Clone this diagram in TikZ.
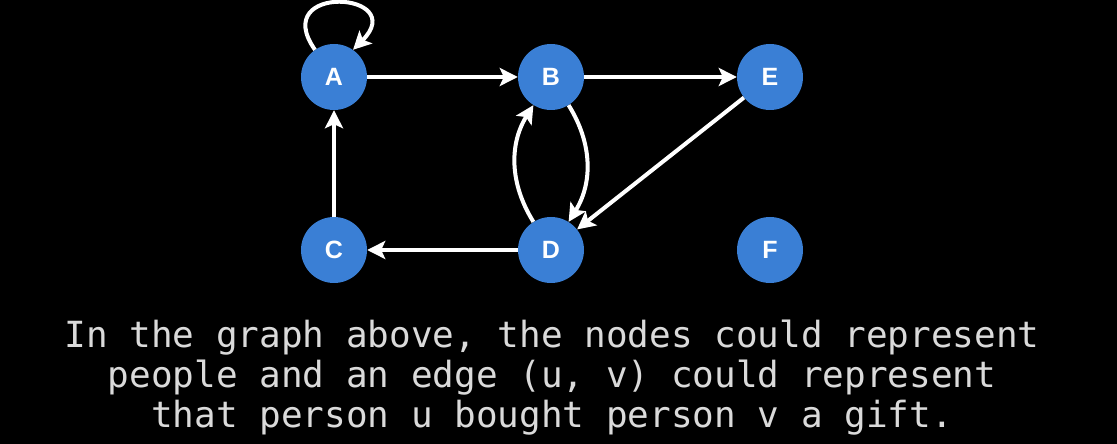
\documentclass[tikz,border=0pt]{standalone}
\usepackage{fontspec}
\usetikzlibrary{arrows.meta}
\newfontfamily\labelfont{Liberation Sans}
\newfontfamily\capfont{DejaVu Sans Mono}
\definecolor{nodeblue}{RGB}{58,127,213}
\definecolor{capgray}{RGB}{218,218,218}
\tikzset{v/.style={circle,fill=nodeblue,minimum size=66pt,inner sep=0pt,text=white,font=\labelfont\bfseries\fontsize{25}{25}\selectfont}}
\tikzset{e/.style={draw=white,line width=4pt,-{Stealth[length=18pt,width=18pt,inset=4pt]}}}
\tikzset{c/.style={text=capgray,align=center,font=\capfont\fontsize{36}{40}\selectfont}}

\begin{document}
\begin{tikzpicture}[x=1pt,y=1pt]
            \useasboundingbox (0,0) rectangle (1117,444);
            \fill[black] (0,0) rectangle (1117,444);
            \node[v] (A) at (334,367) {A};
            \node[v] (B) at (551,367) {B};
            \node[v] (E) at (770,367) {E};
            \node[v] (C) at (334,194) {C};
            \node[v] (D) at (551,194) {D};
            \node[v] (F) at (770,194) {F};
            \draw[e] (A.125) to[out=125,in=45,distance=82pt] (A.55);
            \draw[e] (A) -- (B);
            \draw[e] (B) -- (E);
            \draw[e] (E) -- (D);
            \draw[e] (B) to[bend left=32] (D);
            \draw[e] (D) to[bend left=32] (B);
            \draw[e] (D) -- (C);
            \draw[e] (C) -- (A);
            \node[c,anchor=base] (cap) at (552,16) {In the graph above, the nodes could represent\\
              people and an edge (u, v) could represent\\
              that person u bought person v a gift.};
\end{tikzpicture}
\end{document}
